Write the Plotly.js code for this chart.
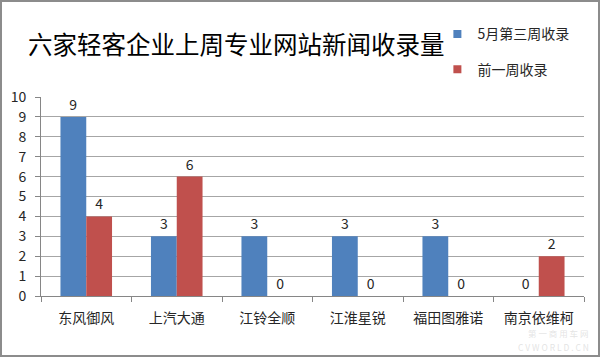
<!DOCTYPE html>
<html>
<head>
<meta charset="utf-8">
<script src="https://cdn.plot.ly/plotly-3.0.1.min.js"></script>
<style>
  html, body { margin: 0; padding: 0; background: #fff; }
  #chart { width: 596px; height: 353px; border: 2px solid #8c8c8c; }
</style>
</head>
<body>
<div id="chart"></div>
<script>
const categories = ["东风御风", "上汽大通", "江铃全顺", "江淮星锐", "福田图雅诺", "南京依维柯"];
const thisWeek = [9, 3, 3, 3, 3, 0];
const lastWeek = [4, 6, 0, 0, 0, 2];
const seriesNames = ["5月第三周收录", "前一周收录"];
const yTicks = [0, 1, 2, 3, 4, 5, 6, 7, 8, 9, 10];
const watermark = ["第 一 商 用 车 网", "C V W O R L D . C N"];

const FONT = '"Noto Sans CJK SC", "Microsoft YaHei", sans-serif';
const BLUE = '#4F81BD';
const RED = '#C0504D';

const barCommon = {
  type: 'bar',
  x: categories,
  textposition: 'outside',
  textfont: { family: FONT, size: 14, color: '#262626' },
  cliponaxis: false,
  showlegend: false,
  hoverinfo: 'x+y+name'
};

const traces = [
  Object.assign({}, barCommon, {
    name: seriesNames[0], y: thisWeek, text: thisWeek.map(String),
    marker: { color: BLUE }
  }),
  Object.assign({}, barCommon, {
    name: seriesNames[1], y: lastWeek, text: lastWeek.map(String),
    marker: { color: RED }
  }),
  // legend entries (small square keys)
  { type: 'scatter', mode: 'markers', x: [null], y: [null], name: seriesNames[0],
    legendgroup: 'a', marker: { symbol: 'square', size: 8, color: BLUE }, hoverinfo: 'skip' },
  { type: 'scatter', mode: 'markers', x: [null], y: [null], name: seriesNames[1],
    legendgroup: 'b', marker: { symbol: 'square', size: 8, color: RED }, hoverinfo: 'skip' }
];

const wmFont = { family: FONT, size: 8.5, color: 'rgba(200,200,200,0.5)' };

const layout = {
  width: 596,
  height: 353,
  margin: { l: 39, r: 14, t: 95, b: 59, pad: 0 },
  paper_bgcolor: '#ffffff',
  plot_bgcolor: '#ffffff',
  font: { family: FONT, size: 14, color: '#262626' },
  title: {
    text: '六家轻客企业上周专业网站新闻收录量',
    font: { family: FONT, size: 24.5, color: '#000000' },
    x: 26 / 596, xanchor: 'left', xref: 'container',
    y: 1 - 43 / 353, yanchor: 'middle', yref: 'container'
  },
  barmode: 'group',
  bargap: 0.43,
  bargroupgap: 0,
  xaxis: {
    type: 'category',
    showline: true, linecolor: '#868686', linewidth: 1,
    ticks: 'outside', tickson: 'boundaries', ticklen: 5, tickcolor: '#868686',
    ticklabelstandoff: 9,
    tickfont: { family: FONT, size: 14, color: '#262626' },
    showgrid: false, zeroline: false,
    fixedrange: true
  },
  yaxis: {
    range: [0, 10],
    tickvals: yTicks,
    showline: true, linecolor: '#868686', linewidth: 1,
    ticks: 'outside', ticklen: 5, tickcolor: '#868686',
    ticklabelstandoff: 6,
    tickfont: { family: FONT, size: 14, color: '#262626' },
    showgrid: true, gridcolor: '#a6a6a6', gridwidth: 1,
    zeroline: false,
    fixedrange: true
  },
  showlegend: true,
  legend: {
    x: 0.73, xanchor: 'left',
    y: 1.395, yanchor: 'top',
    font: { family: FONT, size: 14, color: '#262626' },
    tracegroupgap: 14,
    itemwidth: 30,
    bgcolor: 'rgba(0,0,0,0)'
  },
  annotations: [
    { xref: 'paper', yref: 'paper', x: 1.011, y: -0.222, xanchor: 'right', yanchor: 'bottom',
      text: watermark[0], showarrow: false, borderpad: 0, font: wmFont },
    { xref: 'paper', yref: 'paper', x: 1.011, y: -0.292, xanchor: 'right', yanchor: 'bottom',
      text: watermark[1], showarrow: false, borderpad: 0, font: wmFont }
  ]
};

Plotly.newPlot('chart', traces, layout, { displayModeBar: false, staticPlot: true });
</script>
</body>
</html>
